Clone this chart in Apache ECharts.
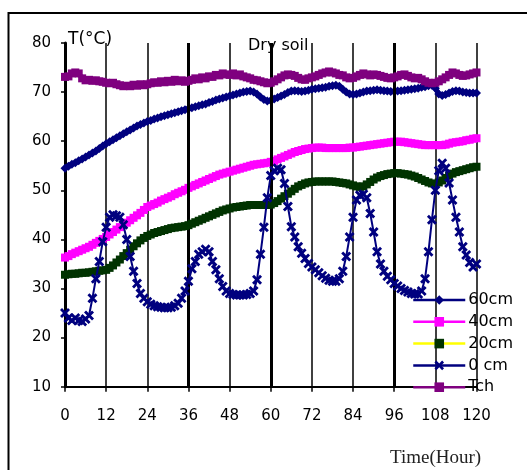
<!DOCTYPE html>
<html>
<head>
<meta charset="utf-8">
<script src="https://cdn.jsdelivr.net/npm/echarts@6/dist/echarts.min.js"></script>
<style>
  html, body { margin: 0; padding: 0; background: #fff; }
  #chart { width: 527px; height: 470px; }
</style>
</head>
<body>
<div id="chart"></div>
<script>
// Hourly soil / chimney temperatures (°C), hours 0..120
const seriesNames = ['60cm', '40cm', '20cm', '0 cm', 'Tch'];

const t60 = [
  54.5, 54.9, 55.3, 55.6, 56.0, 56.4, 56.8, 57.2, 57.6, 58.0, 58.5, 59.0, 59.5,
  59.9, 60.3, 60.7, 61.1, 61.5, 61.9, 62.3, 62.7, 63.1, 63.4, 63.7, 64.0,
  64.2, 64.5, 64.7, 65.0, 65.2, 65.4, 65.6, 65.8, 66.0, 66.2, 66.4, 66.6,
  66.8, 67.0, 67.2, 67.4, 67.6, 67.9, 68.1, 68.4, 68.6, 68.8, 69.0, 69.2,
  69.4, 69.6, 69.8, 70.0, 70.1, 70.2, 70.0, 69.6, 69.0, 68.5, 68.2, 68.3,
  68.6, 68.9, 69.2, 69.5, 69.9, 70.2, 70.3, 70.2, 70.1, 70.2, 70.4, 70.6,
  70.7, 70.8, 70.9, 71.0, 71.2, 71.3, 71.4, 71.2, 70.6, 70.0, 69.6, 69.5,
  69.6, 69.8, 70.0, 70.2, 70.3, 70.4, 70.5, 70.4, 70.3, 70.2, 70.1, 70.1,
  70.2, 70.3, 70.4, 70.5, 70.6, 70.7, 70.8, 71.0, 71.1, 71.3, 71.4, 70.8,
  69.6, 69.3, 69.5, 69.8, 70.1, 70.3, 70.2, 70.0, 69.9, 69.8, 69.8, 69.8
];

const t40 = [
  36.3, 36.6, 37.0, 37.3, 37.6, 37.9, 38.2, 38.5, 38.9, 39.3, 39.7, 40.1, 40.5,
  41.0, 41.5, 42.0, 42.5, 43.0, 43.4, 43.9, 44.4, 44.9, 45.4, 46.0, 46.6,
  46.9, 47.2, 47.5, 47.9, 48.2, 48.5, 48.8, 49.2, 49.5, 49.8, 50.1, 50.5,
  50.8, 51.1, 51.4, 51.7, 52.0, 52.3, 52.6, 52.9, 53.2, 53.4, 53.6, 53.8,
  54.0, 54.2, 54.4, 54.6, 54.8, 55.0, 55.2, 55.3, 55.4, 55.5, 55.6, 55.8,
  56.0, 56.3, 56.6, 56.9, 57.2, 57.5, 57.8, 58.0, 58.2, 58.4, 58.5, 58.6,
  58.7, 58.7, 58.7, 58.6, 58.6, 58.6, 58.6, 58.6, 58.6, 58.6, 58.7, 58.7,
  58.8, 58.9, 59.0, 59.1, 59.2, 59.3, 59.4, 59.5, 59.6, 59.7, 59.8, 59.9,
  59.9, 59.9, 59.8, 59.7, 59.6, 59.5, 59.4, 59.3, 59.2, 59.2, 59.2, 59.2,
  59.2, 59.2, 59.3, 59.5, 59.7, 59.8, 59.9, 60.0, 60.2, 60.3, 60.5, 60.6
];

const t20 = [
  32.8, 32.9, 33.0, 33.0, 33.1, 33.2, 33.2, 33.3, 33.4, 33.5, 33.6, 33.7, 33.8,
  34.2, 34.7, 35.3, 35.9, 36.6, 37.2, 37.9, 38.6, 39.2, 39.8, 40.3, 40.7,
  41.0, 41.3, 41.5, 41.7, 41.9, 42.1, 42.3, 42.4, 42.5, 42.6, 42.7, 42.9,
  43.2, 43.5, 43.8, 44.1, 44.4, 44.7, 45.0, 45.3, 45.6, 45.9, 46.1, 46.3,
  46.5, 46.6, 46.7, 46.8, 46.9, 47.0, 47.0, 47.0, 47.0, 47.0, 47.0, 47.1,
  47.4, 47.8, 48.3, 48.8, 49.3, 49.8, 50.3, 50.8, 51.1, 51.4, 51.6, 51.7,
  51.8, 51.8, 51.8, 51.8, 51.8, 51.8, 51.7, 51.6, 51.5, 51.4, 51.2, 51.0,
  50.8, 50.7, 50.8, 51.2, 51.7, 52.2, 52.6, 52.9, 53.1, 53.3, 53.4, 53.5,
  53.5, 53.4, 53.3, 53.2, 53.0, 52.8, 52.5, 52.2, 51.9, 51.6, 51.4, 51.3,
  51.6, 52.0, 52.5, 53.0, 53.4, 53.7, 53.9, 54.1, 54.3, 54.5, 54.7, 54.8
];

const t0 = [
  25.0, 24.0, 23.5, 24.0, 23.5, 23.3, 23.8, 24.5, 28.0, 32.0, 35.5, 39.5, 42.5,
  44.5, 45.0, 44.8, 44.5, 43.0, 40.0, 36.5, 33.5, 31.0, 29.0, 28.0, 27.3,
  26.8, 26.5, 26.3, 26.2, 26.1, 26.1, 26.2, 26.5, 27.0, 28.0, 29.5, 31.5,
  34.0, 35.5, 37.0, 37.5, 38.0, 37.5, 35.5, 33.8, 32.0, 30.4, 29.5, 29.0,
  28.8, 28.7, 28.7, 28.7, 28.8, 29.0, 29.5, 31.8, 37.0, 42.5, 48.5, 53.0,
  54.0, 54.5, 54.2, 51.4, 46.7, 42.6, 40.5, 38.5, 37.2, 36.1, 35.1, 34.4,
  33.8, 33.2, 32.6, 32.1, 31.7, 31.5, 31.5, 32.0, 33.5, 36.5, 40.5, 44.5,
  48.0, 49.0, 49.2, 48.5, 45.3, 41.5, 37.5, 35.0, 33.5, 32.5, 31.8, 31.0,
  30.5, 30.0, 29.6, 29.3, 29.0, 28.9, 28.9, 29.5, 32.0, 37.5, 44.0, 50.0,
  54.0, 55.5, 54.5, 51.5, 48.0, 44.5, 41.5, 38.5, 36.8, 35.3, 34.4, 35.0
];

const tch = [
  73.1, 73.2, 73.8, 74.0, 73.8, 72.8, 72.4, 72.5, 72.3, 72.4, 72.2, 72.1, 71.9,
  71.8, 71.9, 71.6, 71.4, 71.2, 71.3, 71.2, 71.5, 71.3, 71.6, 71.4, 71.6,
  71.8, 72.0, 71.9, 72.2, 72.0, 72.3, 72.1, 72.5, 72.2, 72.4, 72.1, 72.3,
  72.5, 72.8, 72.6, 73.0, 72.8, 73.2, 73.1, 73.5, 73.4, 73.8, 73.6, 73.5,
  73.8, 73.4, 73.6, 73.2, 73.0, 72.8, 72.5, 72.4, 72.2, 72.0, 71.8, 71.9,
  72.2, 72.6, 73.0, 73.4, 73.6, 73.5, 73.3, 72.9, 72.6, 72.5, 72.8, 73.0,
  73.2, 73.5, 73.8, 74.0, 74.2, 74.0, 73.8, 73.5, 73.4, 73.0, 72.8, 72.9,
  73.2, 73.5, 73.8, 73.6, 73.4, 73.6, 73.5, 73.3, 73.1, 72.9, 72.8, 73.0,
  73.2, 73.5, 73.6, 73.3, 73.0, 72.8, 72.9, 72.6, 72.2, 71.9, 71.8, 71.9,
  72.2, 72.6, 73.0, 73.5, 74.0, 73.8, 73.5, 73.3, 73.4, 73.6, 73.8, 74.0
];

// axis settings
const hourTicks = { min: 0, max: 120, step: 12 };
const tempTicks = { min: 10, max: 80, step: 10 };
const heavyHours = [36, 60, 96];

const NAVY = '#00007f', MAGENTA = '#ff00ff', DKGREEN = '#003300',
      YELLOW = '#ffff00', PURPLE = '#7f007f';
const FONT = '"DejaVu Sans", Verdana, sans-serif';
const CROSS = 'path://M0,2 L2,0 L5,3 L8,0 L10,2 L7,5 L10,8 L8,10 L5,7 L2,10 L0,8 L3,5 Z';

const toPairs = arr => arr.map((v, i) => [i, v]);

function lineSeries(name, values, lineColor, markColor, symbol, size, width, z) {
  return {
    name, type: 'line', data: toPairs(values), z,
    symbol, symbolSize: size, showAllSymbol: true,
    lineStyle: { color: lineColor, width },
    itemStyle: { color: markColor, borderWidth: 0 },
    emphasis: { disabled: true },
    animation: false
  };
}

const chart = echarts.init(document.getElementById('chart'), null, { renderer: 'canvas' });

chart.setOption({
  backgroundColor: '#fff',
  animation: false,
  grid: { left: 65, top: 43, right: 50.5, bottom: 83.3, containLabel: false },
  xAxis: {
    type: 'value', min: hourTicks.min, max: hourTicks.max, interval: hourTicks.step,
    axisLine: { lineStyle: { color: '#000', width: 2 } },
    axisTick: { show: true, length: 5, lineStyle: { color: '#000', width: 1.5 } },
    axisLabel: { color: '#000', fontFamily: FONT, fontSize: 15, margin: 22 },
    splitLine: { show: true, lineStyle: { color: '#000', width: 1.5 } }
  },
  yAxis: {
    type: 'value', min: tempTicks.min, max: tempTicks.max, interval: tempTicks.step,
    axisLine: { show: true, lineStyle: { color: '#000', width: 3 } },
    axisTick: { show: true, length: 4, lineStyle: { color: '#000', width: 1.5 } },
    axisLabel: { color: '#000', fontFamily: FONT, fontSize: 15, margin: 14 },
    splitLine: { show: false }
  },
  legend: {
    orient: 'vertical', left: 412, top: 292, padding: 0,
    itemWidth: 52, itemHeight: 12, itemGap: 5.8,
    data: seriesNames,
    lineStyle: { width: 2.5 },
    textStyle: { color: '#000', fontFamily: FONT, fontSize: 16, lineHeight: 16, padding: [0, 0, 0, -2] },
    selectedMode: false
  },
  series: [
    // heavier hour gridlines
    {
      type: 'line', data: [], z: 1, silent: true,
      markLine: {
        symbol: 'none', silent: true, animation: false, label: { show: false },
        lineStyle: { color: '#000', width: 3, type: 'solid' },
        data: heavyHours.map(h => ({ xAxis: h }))
      }
    },
    lineSeries('60cm', t60, NAVY, NAVY, 'diamond', 9, 5, 3),
    lineSeries('40cm', t40, MAGENTA, MAGENTA, 'rect', 8, 5, 4),
    lineSeries('20cm', t20, YELLOW, DKGREEN, 'rect', 8, 2, 5),
    lineSeries('0 cm', t0, NAVY, NAVY, CROSS, 10, 2, 6),
    lineSeries('Tch', tch, PURPLE, PURPLE, 'rect', 8, 5, 7)
  ],
  graphic: [
    {
      type: 'rect', left: 6, top: 10.5, silent: true,
      shape: { x: 0, y: 0, width: 600, height: 520 },
      style: { fill: 'none', stroke: '#000', lineWidth: 2 }
    },
    {
      type: 'text', left: 68, top: 31,
      style: { text: 'T(°C)', font: '17px ' + FONT, fill: '#000' }
    },
    {
      type: 'text', left: 248, top: 38,
      style: { text: 'Dry soil', font: '16px ' + FONT, fill: '#000' }
    },
    {
      type: 'text', left: 390, top: 449,
      style: { text: 'Time(Hour)', font: '19px "Liberation Serif", "Times New Roman", serif', fill: '#222' }
    }
  ]
});
</script>
</body>
</html>
